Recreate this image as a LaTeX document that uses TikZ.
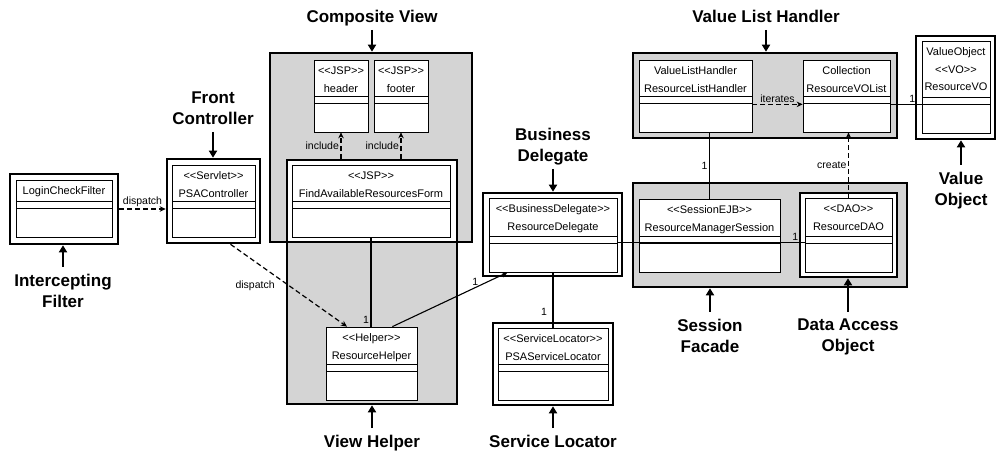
\documentclass[tikz,border=0pt]{standalone}
\usepackage{fontspec}
\newfontfamily\umlfam{Liberation Sans}
\usetikzlibrary{arrows.meta}
\definecolor{shade}{gray}{0.83}
\newcommand\clsfont{\fontsize{11}{17.5}\selectfont\umlfam}
\newcommand\lblfont{\fontsize{10.5}{12}\selectfont\umlfam}
\newcommand\ttlfont{\fontsize{17}{21}\selectfont\umlfam\bfseries}
\tikzset{
	sz/.style 2 args={minimum width=#1pt, minimum height=#2pt},
	frame/.style={draw, line width=2.6pt, fill=white, inner sep=0pt},
	pframe/.style={frame, fill=shade},
	cls/.style={
		draw, fill=white, line width=0.7pt, inner sep=0pt,
		path picture={
			\draw[line width=0.7pt] ([yshift=29pt]path picture bounding box.south west) -- ([yshift=29pt]path picture bounding box.south east);
			\draw[line width=0.7pt] ([yshift=36pt]path picture bounding box.south west) -- ([yshift=36pt]path picture bounding box.south east);
		}
	},
	clstxt/.style={anchor=north, yshift=-7pt, inner sep=0pt, align=center, font=\clsfont},
	ttl/.style={font=\ttlfont, align=center, inner sep=1pt, text depth=0pt},
	parr/.style={-{Triangle[length=7pt,width=8pt]}, line width=2.6pt, shorten <=6pt},
	assoc/.style={line width=1.1pt},
	dep/.style={->, dashed, dash pattern=on 5pt off 3pt, line width=1.2pt},
	lbl/.style={font=\lblfont, inner sep=1.5pt},
	>={Stealth[length=6pt,width=5.5pt]},
}

\begin{document}
\begin{tikzpicture}[x=1pt, y=-1pt]
\useasboundingbox (0,0) rectangle (997,457);
% pattern frames
\node[pframe, sz={202}{189}] (fCV) at (371,147.5) {};
\node[pframe, sz={170}{244}] (fVH) at (372,282) {};
\node[frame, sz={170}{82}] (fFA) at (372,201) {};
\node[pframe, sz={264}{85}] (fVLH) at (765,95.5) {};
\node[pframe, sz={274}{104}] (fSF) at (770,235) {};
\node[frame, sz={108}{70}] (fIF) at (64,209) {};
\node[frame, sz={93}{84}] (fFC) at (213.5,201) {};
\node[frame, sz={139}{83}] (fBD) at (552.5,234.5) {};
\node[frame, sz={120}{82}] (fSL) at (553,364) {};
\node[frame, sz={97}{84}] (fDAO) at (848.5,235) {};
\node[frame, sz={79}{103}] (fVO) at (955.5,87.5) {};
% classes
\node[cls, sz={96}{57}, label={[clstxt]north:LoginCheckFilter}] (LCF) at (64,208.5) {};
\node[cls, sz={83}{72}, label={[clstxt]north:{<<Servlet>>\\PSAController}}] (PSA) at (213.5,201) {};
\node[cls, sz={54}{72}, label={[clstxt]north:{<<JSP>>\\header}}] (hdr) at (341,96) {};
\node[cls, sz={54}{72}, label={[clstxt]north:{<<JSP>>\\footer}}] (ftr) at (401,96) {};
\node[cls, sz={158}{72}, label={[clstxt]north:{<<JSP>>\\FindAvailableResourcesForm}}] (FARF) at (371,201) {};
\node[cls, sz={91}{73}, label={[clstxt]north:{<<Helper>>\\ResourceHelper}}] (RH) at (371.5,363.5) {};
\node[cls, sz={128}{74}, label={[clstxt]north:{<<BusinessDelegate>>\\ResourceDelegate}}] (RD) at (553,235) {};
\node[cls, sz={110}{72}, label={[clstxt]north:{<<ServiceLocator>>\\PSAServiceLocator}}] (SL) at (553,364) {};
\node[cls, sz={141}{73}, label={[clstxt]north:{<<SessionEJB>>\\ResourceManagerSession}}] (RMS) at (709.5,235.5) {};
\node[cls, sz={87}{74}, label={[clstxt]north:{<<DAO>>\\ResourceDAO}}] (DAO) at (848.5,235) {};
\node[cls, sz={113}{72}, label={[clstxt]north:{ValueListHandler\\ResourceListHandler}}] (RLH) at (695.5,96) {};
\node[cls, sz={87}{72}, label={[clstxt]north:{Collection\\ResourceVOList}}] (RVL) at (846.5,96) {};
\node[cls, sz={68}{92}, label={[clstxt]north:{ValueObject\\<<VO>>\\ResourceVO}}] (VO) at (956,87) {};
% pattern names
\node[ttl, anchor=north] (tIF) at (63,273) {Intercepting\\Filter};
\node[ttl, anchor=south] (tFC) at (213,126) {Front\\Controller};
\node[ttl, anchor=south] (tCV) at (372,24) {Composite View};
\node[ttl, anchor=north] (tVH) at (372,434) {View Helper};
\node[ttl, anchor=south] (tBD) at (553,163) {Business\\Delegate};
\node[ttl, anchor=north] (tSL) at (553,434) {Service Locator};
\node[ttl, anchor=south] (tVLH) at (766,24) {Value List Handler};
\node[ttl, anchor=north] (tSF) at (710,318) {Session\\Facade};
\node[ttl, anchor=north] (tDAO) at (848,318) {Data Access\\Object};
\node[ttl, anchor=north] (tVO) at (961,171) {Value\\Object};
\draw[parr] (tIF.north) -- (tIF.north |- fIF.south);
\draw[parr] (tFC.south) -- (tFC.south |- fFC.north);
\draw[parr] (tCV.south) -- (tCV.south |- fCV.north);
\draw[parr] (tVH.north) -- (tVH.north |- fVH.south);
\draw[parr] (tBD.south) -- (tBD.south |- fBD.north);
\draw[parr] (tSL.north) -- (tSL.north |- fSL.south);
\draw[parr] (tVLH.south) -- (tVLH.south |- fVLH.north);
\draw[parr] (tSF.north) -- (tSF.north |- fSF.south);
\draw[parr] (tDAO.north) -- (tDAO.north |- fDAO.south);
\draw[parr] (tVO.north) -- (tVO.north |- fVO.south);
% connectors
\draw[dep] (fIF.east) -- (fIF.east -| fFC.west) node[lbl, midway, above] {dispatch};
\draw[dep] ([xshift=17pt]fFC.south) -- ([xshift=-24.5pt]RH.north) node[lbl, midway, left=12pt] {dispatch};
\draw[dep] (fFA.north -| hdr.south) -- (hdr.south) node[lbl, midway, left=0pt] {include};
\draw[dep] (fFA.north -| ftr.south) -- (ftr.south) node[lbl, midway, left=0pt] {include};
\draw[assoc] (FARF.south) -- (FARF.south |- RH.north) node[lbl, pos=.92, left] {1};
\draw[assoc,->] ([xshift=-25pt]RH.north east) -- ([xshift=19pt]RD.south west) node[lbl, pos=.72, above] {1};
\draw[assoc] (RD.south) -- (RD.south |- SL.north) node[lbl, pos=.71, left=4pt] {1};
\draw[assoc] ([yshift=30pt]RD.south east) -- ([yshift=30pt]DAO.south west) node[lbl, pos=.95, above] {1};
\draw[assoc] (RMS.north) -- (RMS.north |- RLH.south) node[lbl, midway, left] {1};
\draw[dep] (DAO.north) -- (DAO.north |- RVL.south) node[lbl, midway, left] {create};
\draw[dep] ([yshift=28pt]RLH.south east) -- ([yshift=28pt]RVL.south west) node[lbl, midway, above] {iterates};
\draw[assoc] ([yshift=28pt]RVL.south east) -- ([yshift=28pt]RVL.south east -| VO.west) node[lbl, pos=.7, above] {1};
\end{tikzpicture}
\end{document}
